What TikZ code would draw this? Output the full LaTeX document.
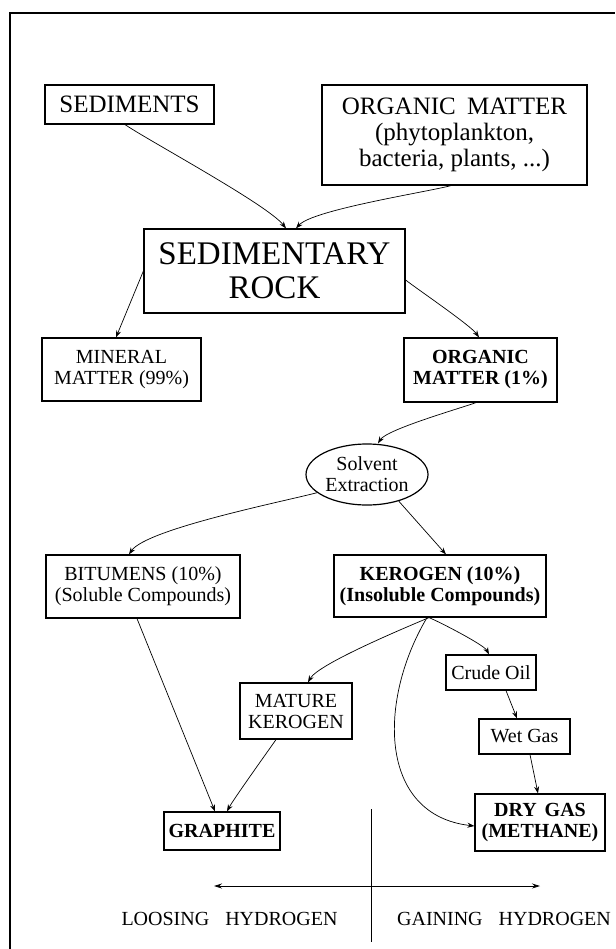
\documentclass[tikz,border=0pt]{standalone}
\usepackage{fontspec}
\setmainfont{Liberation Serif}
\usetikzlibrary{arrows.meta,shapes.geometric}
\newcommand\fsz[2]{\fontsize{#1}{#2}\selectfont}
\begin{document}
\begin{tikzpicture}[x=1pt,y=-1pt,
  box/.style={draw,line width=1.2pt,inner sep=0pt,align=center},
  arr/.style={-{Stealth[length=7pt,width=5pt]},line width=0.7pt},
  kink/.style={looseness=0.4},
  small/.style={font=\fsz{20}{21}}]
\useasboundingbox (0,0) rectangle (615,949);
\draw[line width=1.6pt] (10,949) -- (10,13) -- (615,13);

\node[box,minimum width=169pt,minimum height=39pt,font=\fsz{25}{26}] (sed) at (129.5,104.5) {SEDIMENTS};
\node[box,minimum width=265pt,minimum height=100pt,font=\fsz{25}{26}] (om) at (454.5,135) {ORGANIC\hspace{0.45em}MATTER\\(phytoplankton,\\bacteria, plants, ...)};
\node[box,minimum width=261pt,minimum height=84pt,font=\fsz{33}{34}] (rock) at (274.5,271) {SEDIMENTARY\\ROCK};
\node[box,small,minimum width=159pt,minimum height=63pt] (min) at (121.5,369.5) {MINERAL\\MATTER (99\%)};
\node[box,small,minimum width=153pt,minimum height=64pt] (om1) at (480.5,370) {\bfseries ORGANIC\\\bfseries MATTER (1\%)};
\node[draw,ellipse,line width=1.2pt,inner sep=0pt,align=center,small,minimum width=122pt,minimum height=61pt] (solv) at (367,474.5) {Solvent\\Extraction};
\node[box,small,minimum width=194pt,minimum height=63pt] (bit) at (143,586.5) {BITUMENS (10\%)\\(Soluble Compounds)};
\node[box,small,minimum width=212pt,minimum height=62pt] (ker) at (440,586) {\bfseries KEROGEN (10\%)\\\bfseries (Insoluble Compounds)};
\node[box,small,minimum width=112pt,minimum height=56pt] (mat) at (296,711) {MATURE\\KEROGEN};
\node[box,small,minimum width=90pt,minimum height=35pt] (crude) at (491,672.5) {Crude Oil};
\node[box,small,minimum width=91pt,minimum height=35pt] (wet) at (524.5,736.5) {Wet Gas};
\node[box,small,minimum width=130pt,minimum height=57pt] (dry) at (540,822.5) {\bfseries DRY\hspace{0.4em}GAS\\\bfseries (METHANE)};
\node[box,small,minimum width=116pt,minimum height=38pt] (gra) at (222,831) {\bfseries GRAPHITE};

\draw[arr] ([xshift=-4.5pt]sed.south) to[kink,out=-34,in=128] ([xshift=11.5pt]rock.north);
\draw[arr] ([xshift=-3.5pt]om.south) to[kink,out=195,in=48] ([xshift=21.5pt]rock.north);
\draw[arr] (rock.west) -- ([xshift=-5.5pt]min.north);
\draw[arr] ([yshift=-9pt]rock.east) to[kink,out=-38,in=125] ([xshift=-1.5pt]om1.north);
\draw[arr] ([xshift=-4.5pt]om1.south) to[kink,out=200,in=58] ([xshift=11pt]solv.north);
\draw[arr] (solv.200) to[kink,out=195,in=56] ([xshift=-14pt]bit.north);
\draw[arr] (solv.-40) -- ([xshift=6pt]ker.north);
\draw[arr] ([xshift=-11pt]ker.south) to[kink,out=203,in=61] ([xshift=12pt]mat.north);
\draw[arr] ([xshift=-11pt]ker.south) to[kink,out=-22,in=118] ([xshift=-2pt]crude.north);
\draw[arr] ([xshift=-13pt]ker.south) .. controls (378,700) and (378,815) .. ([yshift=-3.5pt]dry.west);
\draw[arr] ([xshift=-6pt]bit.south) -- ([xshift=-7pt]gra.north);
\draw[arr] ([xshift=-20pt]mat.south) to[kink,out=-125,in=62] ([xshift=5pt]gra.north);
\draw[arr] ([xshift=15pt]crude.south) -- ([xshift=-7.5pt]wet.north);
\draw[arr] ([xshift=5.5pt]wet.south) -- ([xshift=-2pt]dry.north);

\coordinate (vtop) at (371,809);
\coordinate (vbot) at (371,942);
\coordinate (hl) at (214,886);
\coordinate (hr) at (540,886);
\draw[line width=0.8pt] (vtop) -- (vbot);
\draw[{Stealth[length=8pt,width=5pt]}-{Stealth[length=8pt,width=5pt]},line width=0.8pt] (hl) -- (hr);
\node[small] (lose) at (229.5,919) {LOOSING\hspace{16pt}HYDROGEN};
\node[small] (gain) at (504,919) {GAINING\hspace{16pt}HYDROGEN};
\end{tikzpicture}
\end{document}
